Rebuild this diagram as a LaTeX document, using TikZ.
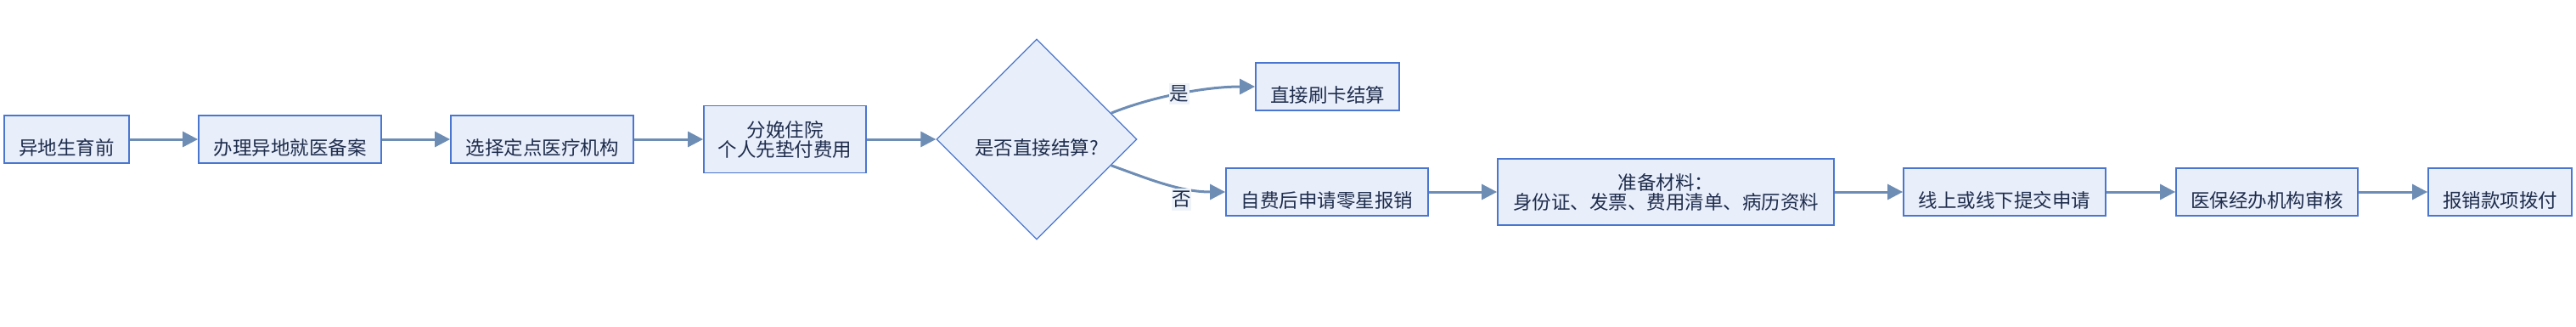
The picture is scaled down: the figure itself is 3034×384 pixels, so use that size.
\documentclass[tikz,border=0pt]{standalone}
\usepackage{fontspec}
\setmainfont{Noto Sans CJK SC}
\usetikzlibrary{shapes.geometric,arrows.meta,calc}
\definecolor{boxfill}{HTML}{E8EEFA}
\definecolor{boxline}{HTML}{4A76D0}
\definecolor{txt}{HTML}{1F2D4D}
\definecolor{arr}{HTML}{6E8DB5}
\definecolor{lblfill}{HTML}{EEF3FA}
\begin{document}
\begin{tikzpicture}[x=1pt,y=-1pt,
  font=\fontsize{22.5}{23}\selectfont, text=txt,
  box/.style={draw=boxline, line width=1.8pt, fill=boxfill, inner sep=0pt,
    minimum height=56pt, text height=37pt, text depth=0pt},
  boxtwo/.style={draw=boxline, line width=1.8pt, fill=boxfill, inner sep=0pt, align=center},
  dec/.style={diamond, aspect=1, draw=boxline, line width=1.3pt, fill=boxfill, inner sep=0pt,
    minimum width=236pt, minimum height=236pt, text height=37pt, text depth=0pt},
  conn/.style={draw=arr, line width=3pt, -{Triangle[length=18pt,width=18pt]}},
  lbl/.style={fill=lblfill, inner xsep=0.5pt, inner ysep=3pt}
]
\useasboundingbox (0,0) rectangle (3034,384);

\node[box, minimum width=147pt] (b1) at (78.5,164) {异地生育前};
\node[box, minimum width=215pt] (b2) at (341.5,164) {办理异地就医备案};
\node[box, minimum width=215pt] (b3) at (638.5,164) {选择定点医疗机构};
\node[boxtwo, minimum width=191pt, minimum height=79pt] (b4) at (924.5,164) {分娩住院\\个人先垫付费用};
\node[dec] (d) at (1221,164) {是否直接结算?};
\node[box, minimum width=169pt] (y) at (1563.5,102) {直接刷卡结算};
\node[box, minimum width=238pt] (n) at (1563,226) {自费后申请零星报销};
\node[boxtwo, minimum width=396pt, minimum height=78pt] (b6) at (1962,226) {准备材料：\\身份证、发票、费用清单、病历资料};
\node[box, minimum width=238pt] (b7) at (2361,226) {线上或线下提交申请};
\node[box, minimum width=214pt] (b8) at (2670,226) {医保经办机构审核};
\node[box, minimum width=169pt] (b9) at (2944.5,226) {报销款项拨付};

\coordinate (dy) at ($(d.north)!0.74!(d.east)$);
\coordinate (dn) at ($(d.east)!0.26!(d.south)$);

\draw[conn] (b1) -- (b2);
\draw[conn] (b2) -- (b3);
\draw[conn] (b3) -- (b4);
\draw[conn] (b4) -- (d);
\draw[conn] (dy) .. controls +(47,-19) and +(-59,0) .. (y.west) node[lbl,pos=0.5] {是};
\draw[conn] (dn) .. controls +(42,15) and +(-54,0) .. (n.west) node[lbl,pos=0.65,yshift=-14pt] {否};
\draw[conn] (n) -- (b6);
\draw[conn] (b6) -- (b7);
\draw[conn] (b7) -- (b8);
\draw[conn] (b8) -- (b9);
\end{tikzpicture}
\end{document}
